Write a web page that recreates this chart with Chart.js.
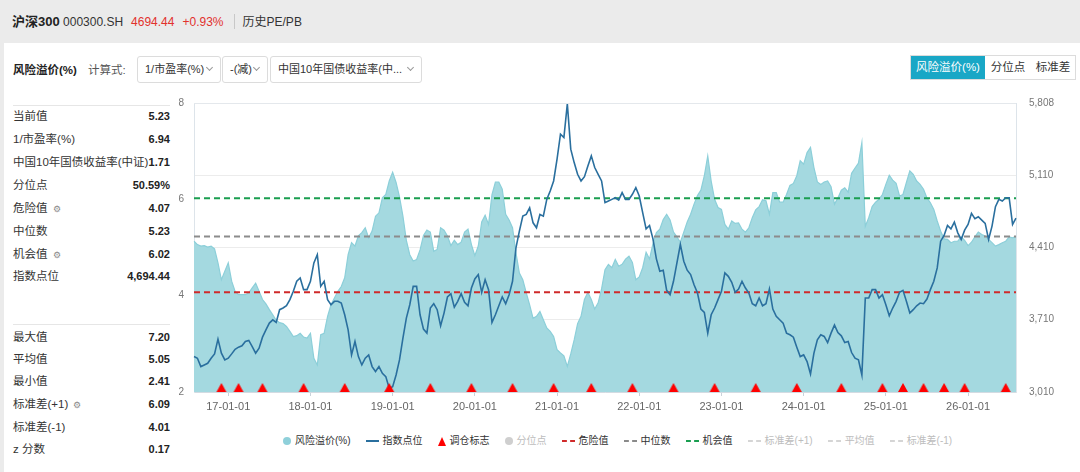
<!DOCTYPE html>
<html>
<head>
<meta charset="utf-8">
<script src="https://cdn.jsdelivr.net/npm/chart.js@4.4.1/dist/chart.umd.min.js"></script>
<style>
  html, body { margin: 0; padding: 0; }
  body {
    width: 1080px; height: 472px; overflow: hidden; position: relative;
    background: #ebebeb; color: #333;
    font-family: "Liberation Sans", "Noto Sans CJK SC", sans-serif;
  }
  .abs { position: absolute; white-space: nowrap; }
  .head { left: 12px; top: 13px; font-size: 12px; line-height: 17px; }
  .head b { font-size: 13px; color: #222; }
  .head .red { color: #e2312d; margin-left: 8px; }
  .head .sep { display: inline-block; width: 1px; height: 15px; background: #c8c8c8; vertical-align: -3px; margin: 0 8px 0 10px; }
  .card { left: 4px; top: 43px; width: 1076px; height: 429px; background: #fff; }
  .lbl { font-size: 11.5px; line-height: 16px; }
  .box { top: 56px; height: 27px; border: 1px solid #dcdcdc; border-radius: 3px; font-size: 11px; line-height: 25px; padding-left: 7px; box-sizing: border-box; color: #333; }
  .chev { position: absolute; right: 8px; top: 8px; width: 4px; height: 4px; border-right: 1px solid #999; border-bottom: 1px solid #999; transform: rotate(45deg); }
  .tog { top: 55px; left: 910px; height: 25px; border: 1px solid #dcdcdc; font-size: 11.5px; line-height: 23px; display: flex; box-sizing: border-box; }
  .tog span { display: block; text-align: center; }
  .tog .on { background: #19a7c6; color: #fff; }
  .row { left: 13px; width: 157px; font-size: 11.5px; line-height: 16px; display: flex; justify-content: space-between; }
  .row b { color: #222; font-size: 11px; }
  .gear { font-size: 9px; color: #888; margin-left: 5px; }
  .rule { left: 13px; width: 157px; height: 1px; background: #e6e6e6; }
  #wrap { position: absolute; left: 170px; top: 84px; width: 901px; height: 334px; }
  .legend { top: 434px; left: 283px; display: flex; align-items: center; font-size: 10px; line-height: 14px; }
  .legend .it { display: flex; align-items: center; margin-right: 15px; }
  .legend .off { color: #bdbdbd; }
  .mk { display: inline-block; margin-right: 4px; }
  .dot { width: 8px; height: 8px; border-radius: 50%; }
  .ln { width: 13px; height: 2px; }
  .tri { width: 0; height: 0; border-left: 4px solid transparent; border-right: 4px solid transparent; border-bottom: 9px solid #f00; }
  .dash { width: 13px; height: 0; border-top: 2px dashed; }
</style>
</head>
<body>
<div class="abs head"><b>沪深300</b> 000300.SH<span class="red">4694.44</span><span class="red">+0.93%</span><span class="sep"></span>历史PE/PB</div>
<div class="abs card"></div>

<div class="abs lbl" style="left:13px;top:62px;font-weight:bold;color:#222;">风险溢价(%)</div>
<div class="abs lbl" style="left:88px;top:62px;color:#555;">计算式:</div>
<div class="abs box" style="left:137px;width:84px;">1/市盈率(%)<i class="chev"></i></div>
<div class="abs box" style="left:222px;width:46px;">-(减)<i class="chev"></i></div>
<div class="abs box" style="left:270px;width:152px;">中国10年国债收益率(中...<i class="chev"></i></div>
<div class="abs tog"><span class="on" style="width:74px;">风险溢价(%)</span><span style="width:46px;">分位点</span><span style="width:44px;">标准差</span></div>

<div class="abs rule" style="top:105px;"></div>
<div class="abs row" style="top:108px;"><span>当前值</span><b>5.23</b></div>
<div class="abs row" style="top:131px;"><span>1/市盈率(%)</span><b>6.94</b></div>
<div class="abs row" style="top:154px;"><span>中国10年国债收益率(中证)</span><b>1.71</b></div>
<div class="abs row" style="top:177px;"><span>分位点</span><b>50.59%</b></div>
<div class="abs row" style="top:200px;"><span>危险值<span class="gear">⚙</span></span><b>4.07</b></div>
<div class="abs row" style="top:223px;"><span>中位数</span><b>5.23</b></div>
<div class="abs row" style="top:246px;"><span>机会值<span class="gear">⚙</span></span><b>6.02</b></div>
<div class="abs row" style="top:268px;"><span>指数点位</span><b>4,694.44</b></div>

<div class="abs rule" style="top:324px;"></div>
<div class="abs row" style="top:329px;"><span>最大值</span><b>7.20</b></div>
<div class="abs row" style="top:351px;"><span>平均值</span><b>5.05</b></div>
<div class="abs row" style="top:373px;"><span>最小值</span><b>2.41</b></div>
<div class="abs row" style="top:396px;"><span>标准差(+1)<span class="gear">⚙</span></span><b>6.09</b></div>
<div class="abs row" style="top:419px;"><span>标准差(-1)</span><b>4.01</b></div>
<div class="abs row" style="top:441px;"><span>z 分数</span><b>0.17</b></div>

<div id="wrap"><canvas id="chart"></canvas></div>

<div class="abs legend">
  <span class="it"><i class="mk dot" style="background:#8fd0da"></i>风险溢价(%)</span>
  <span class="it"><i class="mk ln" style="background:#2a6f9e"></i>指数点位</span>
  <span class="it"><i class="mk tri"></i>调仓标志</span>
  <span class="it off"><i class="mk dot" style="background:#cfcfcf"></i>分位点</span>
  <span class="it"><i class="mk dash" style="border-color:#d02a2a"></i>危险值</span>
  <span class="it"><i class="mk dash" style="border-color:#8a8a8a"></i>中位数</span>
  <span class="it"><i class="mk dash" style="border-color:#1a9e50"></i>机会值</span>
  <span class="it off"><i class="mk dash" style="border-color:#d5d5d5"></i>标准差(+1)</span>
  <span class="it off"><i class="mk dash" style="border-color:#d5d5d5"></i>平均值</span>
  <span class="it off"><i class="mk dash" style="border-color:#d5d5d5"></i>标准差(-1)</span>
</div>

<script>
// half-monthly samples, 2016-08-01 .. 2026-08-01
var startYear = 2016, startMonth = 8, sampleCount = 241;

// risk premium (%), left axis
var premiumValues = [
  5.13, 5.06, 5.03, 5.04, 5.01, 5.03, 4.97, 4.68, 4.33, 4.51,
  4.68, 4.30, 4.09, 4.02, 4.02, 4.02, 4.06, 4.16, 4.26, 4.09,
  3.92, 3.83, 3.71, 3.60, 3.49, 3.44, 3.42, 3.36, 3.26, 3.15,
  3.17, 3.22, 3.14, 3.12, 3.22, 2.70, 2.56, 3.19, 3.22, 3.57,
  3.81, 3.95, 4.09, 4.19, 4.37, 4.85, 5.10, 5.03, 5.24, 5.31,
  5.41, 5.20, 5.34, 5.65, 5.72, 6.03, 6.10, 6.38, 6.56, 6.35,
  6.05, 5.65, 5.15, 4.85, 4.72, 4.75, 4.95, 5.25, 5.36, 5.32,
  4.92, 4.96, 5.41, 5.36, 5.24, 5.04, 5.15, 5.06, 5.11, 5.32,
  5.38, 5.06, 4.83, 5.03, 5.53, 5.67, 5.48, 6.10, 6.36, 6.36,
  6.21, 5.69, 5.57, 5.41, 4.89, 4.47, 4.33, 4.06, 3.81, 3.53,
  3.57, 3.67, 3.50, 3.33, 3.26, 3.15, 2.88, 2.81, 2.75, 2.53,
  2.79, 3.08, 3.42, 3.57, 3.92, 4.07, 3.92, 3.72, 3.85, 4.14,
  4.54, 4.65, 4.58, 4.75, 4.61, 4.65, 4.76, 4.82, 4.69, 4.33,
  4.39, 4.58, 4.90, 4.76, 5.08, 5.31, 5.38, 5.58, 5.69, 5.57,
  5.32, 5.22, 5.11, 5.32, 5.53, 5.69, 5.90, 6.08, 6.19, 6.49,
  6.90, 6.38, 6.00, 5.83, 5.79, 5.48, 5.38, 5.55, 5.50, 5.51,
  5.38, 5.32, 5.41, 5.62, 5.78, 5.85, 5.99, 5.97, 5.69, 6.14,
  6.14, 5.94, 5.94, 6.10, 6.29, 6.33, 6.49, 6.80, 6.73, 6.97,
  7.08, 6.66, 6.36, 6.31, 6.36, 6.38, 6.26, 5.90, 6.03, 6.19,
  6.24, 6.15, 6.54, 6.65, 6.75, 7.18, 5.44, 5.62, 5.85, 5.94,
  6.00, 6.10, 6.31, 6.50, 6.40, 6.33, 6.07, 6.10, 6.35, 6.59,
  6.52, 6.38, 6.31, 6.21, 6.03, 5.93, 5.79, 5.55, 5.34, 5.18,
  5.17, 5.10, 5.13, 5.13, 5.22, 5.15, 5.04, 5.11, 5.22, 5.32,
  5.27, 5.24, 5.17, 5.10, 5.03, 5.06, 5.10, 5.13, 5.22, 5.20,
  5.23
];

// CSI 300 index level, right axis
var indexValues = [
  3353, 3337, 3256, 3272, 3288, 3337, 3379, 3522, 3386, 3321,
  3337, 3379, 3424, 3444, 3457, 3499, 3509, 3450, 3386, 3434,
  3541, 3612, 3677, 3709, 3684, 3807, 3823, 3845, 3904, 3985,
  4082, 4114, 4001, 4001, 4082, 4260, 4340, 4033, 4082, 3904,
  3855, 3888, 3888, 3871, 3758, 3612, 3369, 3499, 3353, 3272,
  3337, 3369, 3256, 3208, 3256, 3191, 3159, 3046, 3062, 3175,
  3321, 3531, 3726, 3855, 4033, 4033, 3758, 3619, 3580, 3822,
  3865, 3807, 3651, 3774, 3930, 3962, 3832, 3888, 3962, 3878,
  3845, 4017, 4104, 4147, 3975, 4098, 4001, 3684, 3758, 3845,
  3930, 3865, 3952, 4082, 4406, 4567, 4713, 4729, 4794, 4648,
  4600, 4729, 4713, 4875, 4956, 5053, 5264, 5507, 5474, 5800,
  5361, 5231, 5118, 5053, 5095, 5199, 5296, 5183, 5118, 5053,
  4843, 4859, 4875, 4891, 4869, 4940, 4875, 4875, 4924, 4988,
  4907, 4746, 4590, 4622, 4493, 4299, 4179, 4189, 3994, 3952,
  4082, 4260, 4438, 4276, 4189, 4147, 4049, 3968, 3813, 3781,
  3580, 3758, 3823, 3904, 3985, 4163, 4130, 4072, 3975, 4007,
  4082, 4017, 3968, 3865, 3845, 3920, 3845, 3865, 4007, 3813,
  3742, 3709, 3677, 3580, 3564, 3541, 3444, 3353, 3369, 3305,
  3185, 3386, 3515, 3564, 3548, 3489, 3580, 3658, 3586, 3554,
  3489, 3499, 3392, 3337, 3321, 3175, 3920, 3920, 4001, 4001,
  3920, 3952, 3855, 3748, 3823, 3888, 3975, 3994, 3888, 3774,
  3807, 3845, 3871, 3865, 3910, 4001, 4082, 4211, 4470, 4525,
  4623, 4590, 4655, 4551, 4487, 4577, 4632, 4739, 4687, 4707,
  4674, 4642, 4487, 4616, 4804, 4875, 4859, 4891, 4891, 4632,
  4694
];

// index rebalance dates (调仓标志)
var rebalanceDates = [
  '2016-12-01', '2017-02-16', '2017-06-01', '2017-12-01', '2018-06-01',
  '2018-12-16', '2019-06-16', '2019-12-16', '2020-06-16', '2020-12-16',
  '2021-06-01', '2021-12-01', '2022-06-01', '2022-12-01', '2023-06-01',
  '2023-12-01', '2024-06-16', '2024-12-16', '2025-03-16', '2025-06-16',
  '2025-09-16', '2025-12-16', '2026-06-16'
];

var dangerValue = 4.07;   // 危险值
var medianValue = 5.23;   // 中位数
var chanceValue = 6.02;   // 机会值

var premiumTicks = [2, 4, 6, 8];
var indexTicks = [3010, 3710, 4410, 5110, 5808];

function pad(n) { return (n < 10 ? '0' : '') + n; }

var dates = [];
for (var k = 0; k < sampleCount; k++) {
    var m = startMonth - 1 + Math.floor(k / 2);
    var y = startYear + Math.floor(m / 12);
    dates.push(y + '-' + pad(m % 12 + 1) + '-' + (k % 2 ? '16' : '01'));
}

var markerData = dates.map(function (d) {
    return rebalanceDates.indexOf(d) >= 0 ? premiumTicks[0] : null;
});

function flat(v) { return dates.map(function () { return v; }); }

// red triangle whose base sits on the data point
var tri = document.createElement('canvas');
tri.width = 12; tri.height = 20;
(function () {
    var c = tri.getContext('2d');
    c.fillStyle = '#ff0000';
    c.beginPath();
    c.moveTo(6, 1); c.lineTo(11, 10); c.lineTo(1, 10);
    c.closePath();
    c.fill();
})();

var frame = {
    id: 'frame',
    afterDraw: function (chart) {
        var a = chart.chartArea, c = chart.ctx;
        c.save();
        c.strokeStyle = '#e4e8ec';
        c.lineWidth = 1;
        c.beginPath();
        c.moveTo(a.left, a.top + 0.5); c.lineTo(a.right, a.top + 0.5);
        c.stroke();
        c.restore();
    }
};

Chart.defaults.font.family = '"Liberation Sans", "Noto Sans CJK SC", sans-serif';
Chart.defaults.animation = false;

function dashed(label, value, color) {
    return {
        type: 'line', label: label, data: flat(value), yAxisID: 'yL',
        borderColor: color, borderWidth: 2, borderDash: [6, 4],
        pointRadius: 0, fill: false, order: 2
    };
}

new Chart(document.getElementById('chart'), {
    type: 'line',
    data: {
        labels: dates,
        datasets: [
            {
                label: '调仓标志', data: markerData, yAxisID: 'yL',
                showLine: false, pointStyle: tri, pointRadius: 6,
                clip: false, order: 0
            },
            {
                label: '指数点位', data: indexValues, yAxisID: 'yR',
                borderColor: '#2a6f9e', borderWidth: 1.6,
                pointRadius: 0, fill: false, order: 1
            },
            dashed('危险值', dangerValue, '#cf2a2a'),
            dashed('中位数', medianValue, '#8c8c8c'),
            dashed('机会值', chanceValue, '#1a9e50'),
            {
                label: '风险溢价(%)', data: premiumValues, yAxisID: 'yL',
                borderColor: '#8ccfd9', borderWidth: 1.2,
                backgroundColor: '#a4d9e0', fill: 'start',
                pointRadius: 0, order: 3
            }
        ]
    },
    options: {
        responsive: true,
        maintainAspectRatio: false,
        layout: { padding: { top: 8, left: 0, right: 0, bottom: 0 } },
        plugins: { legend: { display: false }, tooltip: { enabled: false } },
        scales: {
            x: {
                type: 'category',
                ticks: {
                    autoSkip: false, maxRotation: 0, minRotation: 0,
                    color: '#666', font: { size: 11 }, padding: 4,
                    callback: function (v) {
                        var d = this.getLabelForValue(v);
                        return d.slice(5) === '01-01' ? d.slice(2) : '';
                    }
                },
                grid: {
                    drawOnChartArea: false, drawTicks: true, tickLength: 4,
                    color: function (c) { return c.tick && c.tick.label ? '#c9d2da' : 'rgba(0,0,0,0)'; }
                },
                border: { color: '#d3dbe2' },
                afterFit: function (s) { s.height = 26; }
            },
            yL: {
                position: 'left', min: 2, max: 8,
                afterBuildTicks: function (s) { s.ticks = premiumTicks.map(function (v) { return { value: v }; }); },
                ticks: { color: '#777', font: { size: 10 }, padding: 10 },
                grid: { display: false, drawTicks: false },
                border: { color: '#dde4ea' },
                afterFit: function (s) { s.width = 24; }
            },
            yR: {
                position: 'right', min: 3010, max: 5808,
                afterBuildTicks: function (s) { s.ticks = indexTicks.map(function (v) { return { value: v }; }); },
                ticks: {
                    color: '#777', font: { size: 10 }, padding: 13,
                    callback: function (v) { return v.toLocaleString('en-US'); }
                },
                grid: { color: '#ececec', drawTicks: false },
                border: { color: '#dde4ea' },
                afterFit: function (s) { s.width = 55; }
            }
        }
    },
    plugins: [frame]
});
</script>
</body>
</html>
